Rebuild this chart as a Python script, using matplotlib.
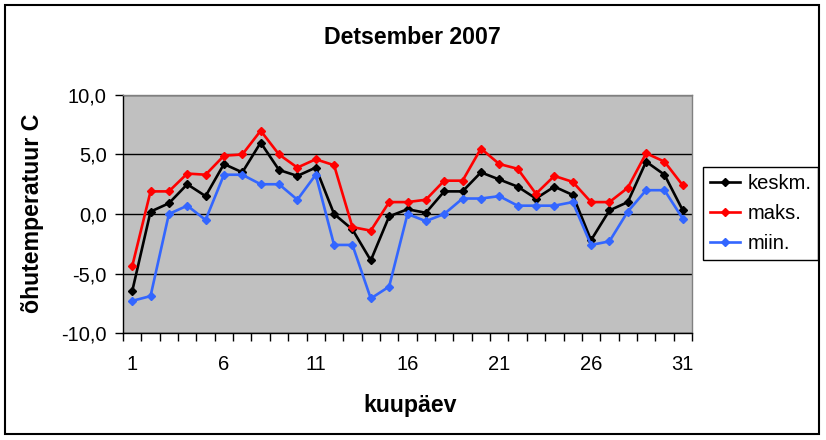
import matplotlib
matplotlib.use("Agg")
import matplotlib.pyplot as plt
from matplotlib.patches import Rectangle
from matplotlib.ticker import FuncFormatter, FixedLocator

days = list(range(1, 32))
keskm = [-6.5, 0.2, 0.9, 2.5, 1.5, 4.2, 3.5, 6.0, 3.7, 3.2, 3.9, 0.0, -1.3, -3.9, -0.2, 0.4,
         0.1, 1.9, 1.9, 3.5, 2.9, 2.3, 1.3, 2.3, 1.6, -2.2, 0.3, 1.0, 4.4, 3.3, 0.3]
maks = [-4.4, 1.9, 1.9, 3.4, 3.3, 4.9, 5.0, 7.0, 5.0, 3.9, 4.6, 4.1, -1.1, -1.4, 1.0, 1.0,
        1.2, 2.8, 2.8, 5.5, 4.2, 3.8, 1.7, 3.2, 2.7, 1.0, 1.0, 2.2, 5.1, 4.4, 2.4]
miin = [-7.3, -6.9, 0.0, 0.7, -0.5, 3.3, 3.3, 2.5, 2.5, 1.2, 3.3, -2.6, -2.6, -7.1, -6.1, 0.0,
        -0.6, 0.0, 1.3, 1.3, 1.5, 0.7, 0.7, 0.7, 1.0, -2.6, -2.3, 0.2, 2.0, 2.0, -0.4]
series_names = ["keskm.", "maks.", "miin."]
series_colors = ["#000000", "#FF0000", "#3366FF"]
yticks = [-10, -5, 0, 5, 10]
xlabels = [1, 6, 11, 16, 21, 26, 31]

plt.rcParams['font.family'] = ['Liberation Sans', 'DejaVu Sans']

W, H = 826, 440
fig = plt.figure(figsize=(W / 100, H / 100), dpi=100)
fig.patch.set_facecolor("white")

ax = fig.add_axes([123 / W, 1 - 333 / H, (692 - 123) / W, (333 - 95) / H])
ax.set_facecolor("#C0C0C0")

for vals, name, col in zip([keskm, maks, miin], series_names, series_colors):
    ax.plot(days, vals, color=col, lw=1.9, marker="D", markersize=4.3,
            markerfacecolor=col, markeredgecolor=col, label=name, zorder=3)

ax.set_xlim(0.5, 31.5)
ax.set_ylim(-10, 10)
ax.set_yticks(yticks)
ax.yaxis.set_major_formatter(FuncFormatter(lambda v, p: f"{v:.1f}".replace(".", ",")))
ax.grid(axis="y", color="black", lw=1, zorder=1)
ax.set_axisbelow(True)

# x: labels at selected days, tick marks at category boundaries
ax.xaxis.set_major_locator(FixedLocator(xlabels))
ax.xaxis.set_minor_locator(FixedLocator([d + 0.5 for d in range(0, 32)]))
ax.tick_params(axis="x", which="major", length=0, pad=16, labelsize=14.5)
ax.tick_params(axis="x", which="minor", length=5.5, width=1, direction="out", color="black")
ax.tick_params(axis="y", which="major", length=5.8, width=1, pad=6, labelsize=14.5)

for s in ["top", "right"]:
    ax.spines[s].set_color("#808080")
    ax.spines[s].set_linewidth(1)
for s in ["left", "bottom"]:
    ax.spines[s].set_color("black")
    ax.spines[s].set_linewidth(1)

fig.text(412 / W, 1 - 37 / H, "Detsember 2007", ha="center", va="center",
         fontsize=16.7, fontweight="bold")
fig.text(410 / W, 1 - 405 / H, "kuupäev", ha="center", va="center",
         fontsize=16.7, fontweight="bold")
fig.text(33 / W, 1 - 213 / H, "õhutemperatuur C", ha="center", va="center",
         rotation=90, fontsize=16.7, fontweight="bold")

leg = ax.legend(loc="upper left", bbox_to_anchor=(703 / W, 1 - 167 / H),
                bbox_transform=fig.transFigure, borderaxespad=0, fontsize=14.5,
                frameon=True, fancybox=False, edgecolor="black", framealpha=1,
                handlelength=1.5, handletextpad=0.35, labelspacing=0.55,
                borderpad=0.35)
leg.get_frame().set_linewidth(1)

fig.patches.append(Rectangle((5 / W, 1 - 434 / H), (819 - 5) / W, (434 - 5) / H,
                             transform=fig.transFigure, fill=False,
                             edgecolor="black", lw=1.5))

fig.savefig("out.png", dpi=100)
